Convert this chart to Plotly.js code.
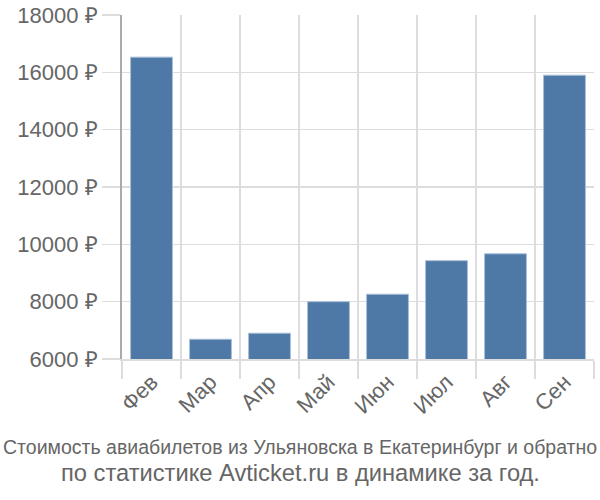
<!DOCTYPE html>
<html>
<head>
<meta charset="utf-8">
<script src="https://cdn.plot.ly/plotly-3.0.1.min.js"></script>
<style>html,body{margin:0;padding:0;background:#fff;}#chart{width:600px;height:500px;}</style>
</head>
<body>
<div id="chart"></div>
<script>
var months = ["Фев", "Мар", "Апр", "Май", "Июн", "Июл", "Авг", "Сен"];
var prices = [16530, 6690, 6900, 8000, 8260, 9430, 9670, 15900];
var yTicks = [6000, 8000, 10000, 12000, 14000, 16000, 18000];
var yTickLabels = ["6000 ₽", "8000 ₽", "10000 ₽", "12000 ₽", "14000 ₽", "16000 ₽", "18000 ₽"];
var titleLine1 = "Стоимость авиабилетов из Ульяновска в Екатеринбург и обратно";
var titleLine2 = "по статистике Avticket.ru в динамике за год.";

var trace = {
  type: "bar",
  x: months,
  y: prices,
  marker: {color: "#4e79a7", line: {color: "#a9bfd8", width: 1}},
  hoverinfo: "x+y"
};

var ml = 122, mr = 6, W = 600;
var cx = (W / 2 - ml) / (W - ml - mr);

var layout = {
  width: 600, height: 500,
  margin: {l: ml, r: mr, t: 15, b: 141},
  paper_bgcolor: "#fff", plot_bgcolor: "#fff",
  bargap: 0.29,
  showlegend: false,
  font: {family: "Liberation Sans, Arial, sans-serif", color: "#666", size: 22},
  xaxis: {
    type: "category",
    tickangle: -45,
    tickson: "boundaries",
    ticks: "outside", ticklen: 18, tickcolor: "#ddd", tickwidth: 1.5,
    showgrid: true, gridcolor: "#ddd", gridwidth: 1.5,
    showline: true, linecolor: "#ddd", linewidth: 1.5,
    tickfont: {size: 22, color: "#666"}
  },
  yaxis: {
    range: [6000, 18000],
    tickmode: "array",
    tickvals: yTicks,
    ticktext: yTickLabels,
    ticks: "outside", ticklen: 18, tickcolor: "#ddd", tickwidth: 1.5,
    showgrid: true, gridcolor: "#ddd", gridwidth: 1.5,
    showline: true, linecolor: "#aaa", linewidth: 2,
    zeroline: false,
    tickfont: {size: 22, color: "#666"}
  },
  annotations: [
    {text: titleLine1, xref: "paper", yref: "paper", x: cx, y: -0.255, xanchor: "center", yanchor: "middle",
     showarrow: false, font: {family: "Liberation Sans, Arial, sans-serif", size: 19.5, color: "#666"}},
    {text: titleLine2, xref: "paper", yref: "paper", x: cx, y: -0.33, xanchor: "center", yanchor: "middle",
     showarrow: false, font: {family: "Liberation Sans, Arial, sans-serif", size: 23.7, color: "#666"}}
  ]
};

Plotly.newPlot("chart", [trace], layout, {displayModeBar: false, staticPlot: true});
</script>
</body>
</html>
